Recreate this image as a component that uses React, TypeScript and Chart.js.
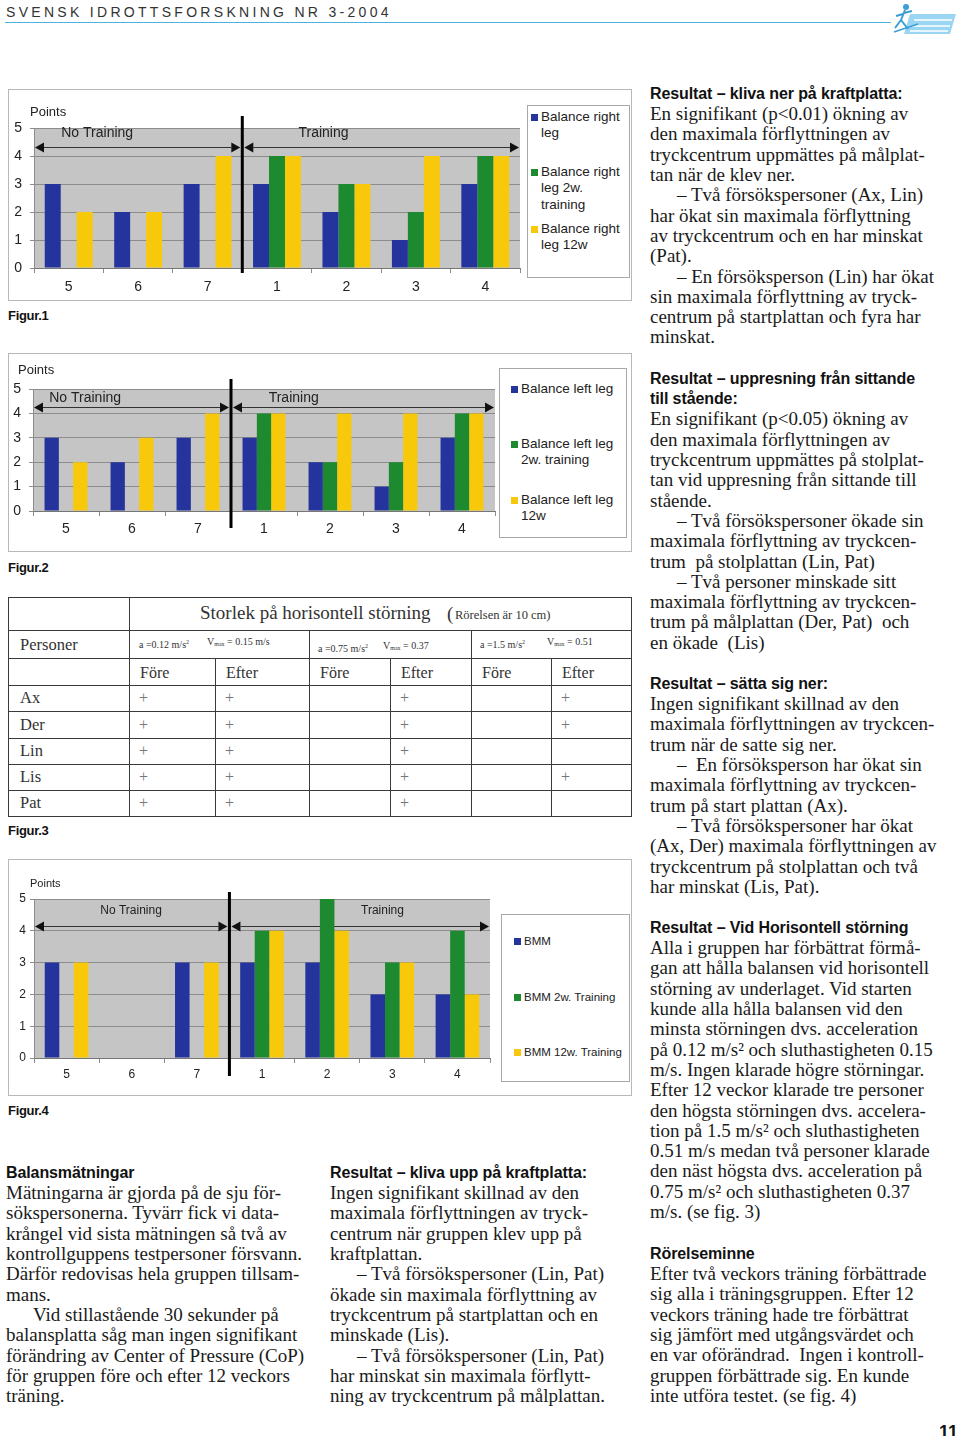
import React, { useEffect, useRef } from "react";
import { Chart, registerables } from "chart.js";
Chart.register(...registerables);

// ---------- DATA ----------
const categories = ["5", "6", "7", "1", "2", "3", "4"];
const groupLabels = ["No Training", "Training"];
const axisTitle = "Points";

const fig1Base = [3, 2, 3, 3, 2, 1, 3];
const fig1TwoWeeks = [null, null, null, 4, 3, 2, 4];
const fig1TwelveWeeks = [2, 2, 4, 4, 3, 4, 4];
const fig1Legend = ["Balance right\nleg", "Balance right\nleg 2w.\ntraining", "Balance right\nleg 12w"];

const fig2Base = [3, 2, 3, 3, 2, 1, 3];
const fig2TwoWeeks = [null, null, null, 4, 2, 2, 4];
const fig2TwelveWeeks = [2, 3, 4, 4, 4, 4, 4];
const fig2Legend = ["Balance left leg", "Balance left leg\n2w. training", "Balance left leg\n12w"];

const fig4Base = [3, null, 3, 3, 3, 2, 2];
const fig4TwoWeeks = [null, null, null, 4, 5, 3, 4];
const fig4TwelveWeeks = [3, null, 3, 4, 4, 3, 2];
const fig4Legend = ["BMM", "BMM 2w. Training", "BMM 12w. Training"];

const tablePersons = ["Ax", "Der", "Lin", "Lis", "Pat"];
const tablePhases = ["Före", "Efter", "Före", "Efter", "Före", "Efter"];
const tableMarks = [
  [1, 1, 0, 1, 0, 1],
  [1, 1, 0, 1, 0, 1],
  [1, 1, 0, 1, 0, 0],
  [1, 1, 0, 1, 0, 1],
  [1, 1, 0, 1, 0, 0],
];

// ---------- STYLE ----------
const BLUE = "#25349c";
const GREEN = "#1e8a2f";
const YELLOW = "#f8c90a";
const PLOT_BG = "#c5c5c5";
const GRID = "#8c8c8c";
const SANS = "'Liberation Sans', Arial, sans-serif";
const SERIF = "'Liberation Serif', 'Times New Roman', serif";

const overlayPlugin = {
  id: "overlay",
  beforeDraw(chart: any) {
    const { ctx, chartArea: ca } = chart;
    ctx.save();
    ctx.fillStyle = PLOT_BG;
    ctx.fillRect(ca.left, ca.top, ca.right - ca.left, ca.bottom - ca.top);
    ctx.restore();
  },
  beforeDatasetsDraw(chart: any, _a: any, o: any) {
    const { ctx, chartArea: ca, scales } = chart;
    const x = scales.x, y = scales.y;
    const divX = x.getPixelForValue(2.5);
    const ay = Math.round(y.getPixelForValue(o.arrowValue)) + 0.5;
    const arrow = (x1: number, x2: number) => {
      const L = 9, H = 5;
      ctx.beginPath();
      ctx.moveTo(x1 + L, ay);
      ctx.lineTo(x2 - L, ay);
      ctx.strokeStyle = "#333";
      ctx.lineWidth = 1;
      ctx.stroke();
      ctx.fillStyle = "#111";
      ctx.beginPath();
      ctx.moveTo(x1, ay);
      ctx.lineTo(x1 + L, ay - H);
      ctx.lineTo(x1 + L, ay + H);
      ctx.closePath();
      ctx.fill();
      ctx.beginPath();
      ctx.moveTo(x2, ay);
      ctx.lineTo(x2 - L, ay - H);
      ctx.lineTo(x2 - L, ay + H);
      ctx.closePath();
      ctx.fill();
    };
    ctx.save();
    arrow(ca.left + 1, divX - 2);
    arrow(divX + 2, ca.right - 1);
    ctx.fillStyle = "#222";
    ctx.font = `${o.groupFont}px ${SANS}`;
    ctx.textAlign = "center";
    ctx.textBaseline = "middle";
    ctx.fillText(groupLabels[0], x.getPixelForValue(o.noTrainX), y.getPixelForValue(o.labelValue));
    ctx.fillText(groupLabels[1], x.getPixelForValue(o.trainX), y.getPixelForValue(o.labelValue));
    ctx.restore();
  },
  afterDraw(chart: any, _a: any, o: any) {
    const { ctx, chartArea: ca, scales } = chart;
    const divX = scales.x.getPixelForValue(2.5);
    ctx.save();
    ctx.strokeStyle = "#000";
    ctx.lineWidth = 3;
    ctx.beginPath();
    ctx.moveTo(divX, ca.top - o.divTopExt);
    ctx.lineTo(divX, ca.bottom + o.divBotExt);
    ctx.stroke();
    ctx.fillStyle = "#222";
    ctx.font = `${o.pointsFont}px ${SANS}`;
    ctx.textAlign = "left";
    ctx.textBaseline = "middle";
    ctx.fillText(axisTitle, ca.left + o.pointsDx, ca.top + o.pointsDy);
    ctx.restore();
  },
};

type FigCfg = {
  frame: { x: number; y: number; w: number; h: number };
  plot: { l: number; t: number; r: number; b: number };
  xAxisH: number;
  catPct: number;
  tickFont: number;
  yPad: number;
  xPad: number;
  overlay: any;
  legendBox: { x: number; y: number; w: number; h: number };
  legendSquareX: number;
  legendTextX: number;
  legendCenters: number[];
  legendLineH: number;
  legendFont: number;
  caption: string;
  captionY: number;
};

function BarFigure({ cfg, base, two, twelve, legend }: any) {
  const ref = useRef<HTMLCanvasElement>(null);
  const c: FigCfg = cfg;
  useEffect(() => {
    const f = c.frame, p = c.plot;
    const chart = new Chart(ref.current as HTMLCanvasElement, {
      type: "bar",
      data: {
        labels: categories,
        datasets: [
          { label: legend[0], data: base, backgroundColor: BLUE },
          { label: legend[1], data: two, backgroundColor: GREEN },
          { label: legend[2], data: twelve, backgroundColor: YELLOW },
        ],
      },
      options: {
        responsive: false,
        animation: false,
        devicePixelRatio: 1,
        layout: {
          padding: {
            left: 0,
            top: p.t - f.y,
            right: f.x + f.w - p.r,
            bottom: f.y + f.h - p.b - c.xAxisH,
          },
        },
        datasets: { bar: { barPercentage: 1, categoryPercentage: c.catPct } },
        plugins: {
          legend: { display: false },
          tooltip: { enabled: false },
          overlay: c.overlay,
        } as any,
        scales: {
          x: {
            offset: true,
            grid: { display: true, drawOnChartArea: false, drawTicks: true, tickLength: 5, color: GRID, offset: true },
            border: { display: true, color: "#777" },
            ticks: { color: "#222", font: { family: SANS, size: c.tickFont }, padding: c.xPad, maxRotation: 0 },
            afterFit: (s: any) => { s.height = c.xAxisH; },
          },
          y: {
            min: 0,
            max: 5,
            ticks: { stepSize: 1, color: "#222", font: { family: SANS, size: c.tickFont }, padding: c.yPad },
            grid: { color: GRID, lineWidth: 1, drawTicks: true, tickLength: 4, tickColor: GRID },
            border: { display: true, color: GRID },
            afterFit: (s: any) => { s.width = p.l - f.x; },
          },
        },
      } as any,
      plugins: [overlayPlugin as any],
    });
    return () => chart.destroy();
  }, []);
  const f = c.frame;
  const lb = c.legendBox;
  return (
    <>
      <canvas
        ref={ref}
        width={f.w}
        height={f.h}
        style={{ position: "absolute", left: f.x, top: f.y, width: f.w, height: f.h }}
      />
      <div
        style={{
          position: "absolute", left: f.x, top: f.y, width: f.w, height: f.h,
          border: "1px solid #b8b8b8", boxSizing: "border-box", pointerEvents: "none",
        }}
      />
      <div
        style={{
          position: "absolute", left: lb.x, top: lb.y, width: lb.w, height: lb.h,
          border: "1px solid #a8a8a8", boxSizing: "border-box", background: "#fff",
        }}
      />
      {legend.map((txt: string, i: number) => (
        <React.Fragment key={i}>
          <div
            style={{
              position: "absolute", left: c.legendSquareX, top: c.legendCenters[i] - 3,
              width: 7, height: 7, background: [BLUE, GREEN, YELLOW][i],
            }}
          />
          <div
            style={{
              position: "absolute", left: c.legendTextX, top: c.legendCenters[i] - c.legendLineH / 2,
              fontFamily: SANS, fontSize: c.legendFont, lineHeight: c.legendLineH + "px",
              color: "#222", whiteSpace: "pre",
            }}
          >
            {txt}
          </div>
        </React.Fragment>
      ))}
      <Caption text={c.caption} y={c.captionY} />
    </>
  );
}

function Caption({ text, y }: { text: string; y: number }) {
  return (
    <div
      style={{
        position: "absolute", left: 8, top: y - 9, fontFamily: SANS, fontWeight: 700,
        fontSize: 13, lineHeight: "18px", color: "#111", letterSpacing: "-0.3px",
      }}
    >
      {text}
    </div>
  );
}

const fig1Cfg: FigCfg = {
  frame: { x: 8, y: 89, w: 624, h: 212 },
  plot: { l: 34, t: 128, r: 520, b: 268 },
  xAxisH: 30, catPct: 0.69, tickFont: 14, yPad: 8, xPad: 6,
  overlay: { arrowValue: 4.33, labelValue: 4.8, noTrainX: 0.41, trainX: 3.67, groupFont: 14,
    divTopExt: 12, divBotExt: 5, pointsDx: -4, pointsDy: -16, pointsFont: 13 },
  legendBox: { x: 527, y: 105, w: 103, h: 173 },
  legendSquareX: 531, legendTextX: 541, legendCenters: [117, 172, 229], legendLineH: 16.5, legendFont: 13.5,
  caption: "Figur.1", captionY: 316,
};

const fig2Cfg: FigCfg = {
  frame: { x: 8, y: 353, w: 624, h: 199 },
  plot: { l: 33, t: 389, r: 495, b: 511 },
  xAxisH: 30, catPct: 0.65, tickFont: 14, yPad: 8, xPad: 5,
  overlay: { arrowValue: 4.25, labelValue: 4.62, noTrainX: 0.29, trainX: 3.45, groupFont: 14,
    divTopExt: 10, divBotExt: 17, pointsDx: -15, pointsDy: -19, pointsFont: 13 },
  legendBox: { x: 499, y: 368, w: 128, h: 170 },
  legendSquareX: 511, legendTextX: 521, legendCenters: [389, 444, 500], legendLineH: 15.5, legendFont: 13.5,
  caption: "Figur.2", captionY: 568,
};

const fig4Cfg: FigCfg = {
  frame: { x: 8, y: 859, w: 624, h: 237 },
  plot: { l: 34, t: 899, r: 490, b: 1058 },
  xAxisH: 30, catPct: 0.67, tickFont: 12, yPad: 4, xPad: 4,
  overlay: { arrowValue: 4.14, labelValue: 4.63, noTrainX: 0.99, trainX: 4.85, groupFont: 12,
    divTopExt: 7, divBotExt: 18, pointsDx: -4, pointsDy: -15, pointsFont: 11 },
  legendBox: { x: 501, y: 914, w: 129, h: 168 },
  legendSquareX: 514, legendTextX: 524, legendCenters: [941, 997, 1052], legendLineH: 14, legendFont: 11.5,
  caption: "Figur.4", captionY: 1111,
};

// ---------- TABLE ----------
const colX = [8, 129, 215, 309, 390, 471, 551, 631];
const rowY = [597, 630, 658, 685, 711, 738, 764, 790, 816];

function Table() {
  const lines: any[] = [];
  const LC = "#3a3a3a";
  rowY.forEach((y, i) =>
    lines.push(<div key={"h" + i} style={{ position: "absolute", left: colX[0], top: y, width: colX[7] - colX[0] + 1, height: 1, background: LC }} />)
  );
  colX.forEach((x, i) => {
    let top = rowY[0];
    if (i === 2 || i === 4 || i === 6) top = rowY[2];
    if (i === 3 || i === 5) top = rowY[1];
    lines.push(<div key={"v" + i} style={{ position: "absolute", left: x, top, width: 1, height: rowY[8] - top + 1, background: LC }} />);
  });
  const txt = (key: string, x: number, y: number, size: number, content: any, color = "#333") => (
    <div key={key} style={{ position: "absolute", left: x, top: y - size * 0.6, fontFamily: SERIF, fontSize: size, lineHeight: size * 1.2 + "px", color, whiteSpace: "pre" }}>
      {content}
    </div>
  );
  const sub = { fontSize: 6, verticalAlign: "-1px" } as any;
  const sup = { fontSize: 6, verticalAlign: "4px" } as any;
  return (
    <>
      {lines}
      {txt("t1", 200, 613, 19, "Storlek på horisontell störning")}
      {txt("t2", 447, 614, 19, "(")}
      {txt("t3", 455, 615, 12.5, "Rörelsen är 10 cm)")}
      {txt("p", 20, 645, 16.5, "Personer")}
      {txt("a1", 139, 642, 10, <>a =0.12 m/s<span style={sup}>2</span></>)}
      {txt("b1", 207, 642, 10, <>V<span style={sub}>max</span> = 0.15 m/s</>)}
      {txt("a2", 318, 646, 10, <>a =0.75 m/s<span style={sup}>2</span></>)}
      {txt("b2", 383, 646, 10, <>V<span style={sub}>max</span> = 0.37</>)}
      {txt("a3", 480, 642, 10, <>a =1.5 m/s<span style={sup}>2</span></>)}
      {txt("b3", 547, 642, 10, <>V<span style={sub}>max</span> = 0.51</>)}
      {tablePhases.map((ph, i) => txt("ph" + i, colX[i + 1] + 11, 673, 16, ph))}
      {tablePersons.map((name, r) => txt("n" + r, 20, (rowY[3 + r] + rowY[4 + r]) / 2, 16.5, name))}
      {tableMarks.map((row, r) =>
        row.map((m, ci) => (m ? txt("m" + r + "_" + ci, colX[ci + 1] + 10, (rowY[3 + r] + rowY[4 + r]) / 2, 16, "+", "#777") : null))
      )}
      <Caption text="Figur.3" y={831} />
    </>
  );
}

// ---------- TEXT ----------
const LH = 20.3;
function TextBlock({ x, y, heading, lines }: { x: number; y: number; heading: string[]; lines: string[] }) {
  return (
    <div style={{ position: "absolute", left: x, top: y - LH / 2, color: "#1a1a1a" }}>
      {heading.map((h, i) => (
        <div key={"h" + i} style={{ fontFamily: SANS, fontWeight: 700, fontSize: 16, height: LH, lineHeight: LH + "px", whiteSpace: "pre", color: "#111", letterSpacing: "-0.1px" }}>
          {h}
        </div>
      ))}
      {lines.map((l, i) => {
        const ind = l.startsWith("|");
        return (
          <div key={i} style={{ fontFamily: SERIF, fontSize: 19, height: LH, lineHeight: LH + "px", whiteSpace: "pre", paddingLeft: ind ? 27 : 0 }}>
            {ind ? l.slice(1) : l}
          </div>
        );
      })}
    </div>
  );
}

const block1 = [
  "En signifikant (p<0.01) ökning av",
  "den maximala förflyttningen av",
  "tryckcentrum uppmättes på målplat-",
  "tan när de klev ner.",
  "|– Två försökspersoner (Ax, Lin)",
  "har ökat sin maximala förflyttning",
  "av tryckcentrum och en har minskat",
  "(Pat).",
  "|– En försöksperson (Lin) har ökat",
  "sin maximala förflyttning av tryck-",
  "centrum på startplattan och fyra har",
  "minskat.",
];
const block2 = [
  "En signifikant (p<0.05) ökning av",
  "den maximala förflyttningen av",
  "tryckcentrum uppmättes på stolplat-",
  "tan vid uppresning från sittande till",
  "stående.",
  "|– Två försökspersoner ökade sin",
  "maximala förflyttning av tryckcen-",
  "trum  på stolplattan (Lin, Pat)",
  "|– Två personer minskade sitt",
  "maximala förflyttning av tryckcen-",
  "trum på målplattan (Der, Pat)  och",
  "en ökade  (Lis)",
];
const block3 = [
  "Ingen signifikant skillnad av den",
  "maximala förflyttningen av tryckcen-",
  "trum när de satte sig ner.",
  "|–  En försöksperson har ökat sin",
  "maximala förflyttning av tryckcen-",
  "trum på start plattan (Ax).",
  "|– Två försökspersoner har ökat",
  "(Ax, Der) maximala förflyttningen av",
  "tryckcentrum på stolplattan och två",
  "har minskat (Lis, Pat).",
];
const block4 = [
  "Alla i gruppen har förbättrat förmå-",
  "gan att hålla balansen vid horisontell",
  "störning av underlaget. Vid starten",
  "kunde alla hålla balansen vid den",
  "minsta störningen dvs. acceleration",
  "på 0.12 m/s² och sluthastigheten 0.15",
  "m/s. Ingen klarade högre störningar.",
  "Efter 12 veckor klarade tre personer",
  "den högsta störningen dvs. accelera-",
  "tion på 1.5 m/s² och sluthastigheten",
  "0.51 m/s medan två personer klarade",
  "den näst högsta dvs. acceleration på",
  "0.75 m/s² och sluthastigheten 0.37",
  "m/s. (se fig. 3)",
];
const block5 = [
  "Efter två veckors träning förbättrade",
  "sig alla i träningsgruppen. Efter 12",
  "veckors träning hade tre förbättrat",
  "sig jämfört med utgångsvärdet och",
  "en var oförändrad.  Ingen i kontroll-",
  "gruppen förbättrade sig. En kunde",
  "inte utföra testet. (se fig. 4)",
];
const blockLeft = [
  "Mätningarna är gjorda på de sju för-",
  "sökspersonerna. Tyvärr fick vi data-",
  "krångel vid sista mätningen så två av",
  "kontrollguppens testpersoner försvann.",
  "Därför redovisas hela gruppen tillsam-",
  "mans.",
  "|Vid stillastående 30 sekunder på",
  "balansplatta såg man ingen signifikant",
  "förändring av Center of Pressure (CoP)",
  "för gruppen före och efter 12 veckors",
  "träning.",
];
const blockMid = [
  "Ingen signifikant skillnad av den",
  "maximala förflyttningen av tryck-",
  "centrum när gruppen klev upp på",
  "kraftplattan.",
  "|– Två försökspersoner (Lin, Pat)",
  "ökade sin maximala förflyttning av",
  "tryckcentrum på startplattan och en",
  "minskade (Lis).",
  "|– Två försökspersoner (Lin, Pat)",
  "har minskat sin maximala förflytt-",
  "ning av tryckcentrum på målplattan.",
];

function Header() {
  return (
    <>
      <div style={{ position: "absolute", left: 6, top: 3, fontFamily: SANS, fontSize: 14, letterSpacing: "3.3px", color: "#333", lineHeight: "18px", whiteSpace: "pre" }}>
        SVENSK IDROTTSFORSKNING NR 3-2004
      </div>
      <div style={{ position: "absolute", left: 5, top: 22, width: 886, height: 1, background: "#4db3dc" }} />
      <svg style={{ position: "absolute", left: 892, top: 2 }} width={66} height={34}>
        <polygon points="18,12 64,12 58,32 12,32" fill="#9ad6f2" />
        <line x1="22" y1="18" x2="60" y2="18" stroke="#fff" strokeWidth="1.5" />
        <line x1="20" y1="24" x2="58" y2="24" stroke="#fff" strokeWidth="1.5" />
        <line x1="18" y1="29" x2="56" y2="29" stroke="#fff" strokeWidth="1.5" />
        <circle cx="14" cy="5" r="3" fill="#3b9fd6" />
        <path d="M13,8 L9,18 L3,26 M9,18 L16,27 M12,11 L20,9 M11,12 L4,14" stroke="#3b9fd6" strokeWidth="2" fill="none" />
        <path d="M2,30 L26,22" stroke="#3b9fd6" strokeWidth="1.5" />
      </svg>
    </>
  );
}

export default function App() {
  return (
    <div style={{ position: "absolute", left: 0, top: 0, width: 960, height: 1436, background: "#fff", overflow: "hidden" }}>
      <Header />
      <BarFigure cfg={fig1Cfg} base={fig1Base} two={fig1TwoWeeks} twelve={fig1TwelveWeeks} legend={fig1Legend} />
      <BarFigure cfg={fig2Cfg} base={fig2Base} two={fig2TwoWeeks} twelve={fig2TwelveWeeks} legend={fig2Legend} />
      <Table />
      <BarFigure cfg={fig4Cfg} base={fig4Base} two={fig4TwoWeeks} twelve={fig4TwelveWeeks} legend={fig4Legend} />
      <TextBlock x={650} y={94} heading={["Resultat – kliva ner på kraftplatta:"]} lines={block1} />
      <TextBlock x={650} y={379} heading={["Resultat – uppresning från sittande", "till stående:"]} lines={block2} />
      <TextBlock x={650} y={684} heading={["Resultat – sätta sig ner:"]} lines={block3} />
      <TextBlock x={650} y={928} heading={["Resultat – Vid Horisontell störning"]} lines={block4} />
      <TextBlock x={650} y={1254} heading={["Rörelseminne"]} lines={block5} />
      <TextBlock x={6} y={1173} heading={["Balansmätningar"]} lines={blockLeft} />
      <TextBlock x={330} y={1173} heading={["Resultat – kliva upp på kraftplatta:"]} lines={blockMid} />
      <div style={{ position: "absolute", left: 939, top: 1422, fontFamily: SANS, fontWeight: 700, fontSize: 18, lineHeight: "20px", color: "#111" }}>
        11
      </div>
    </div>
  );
}
